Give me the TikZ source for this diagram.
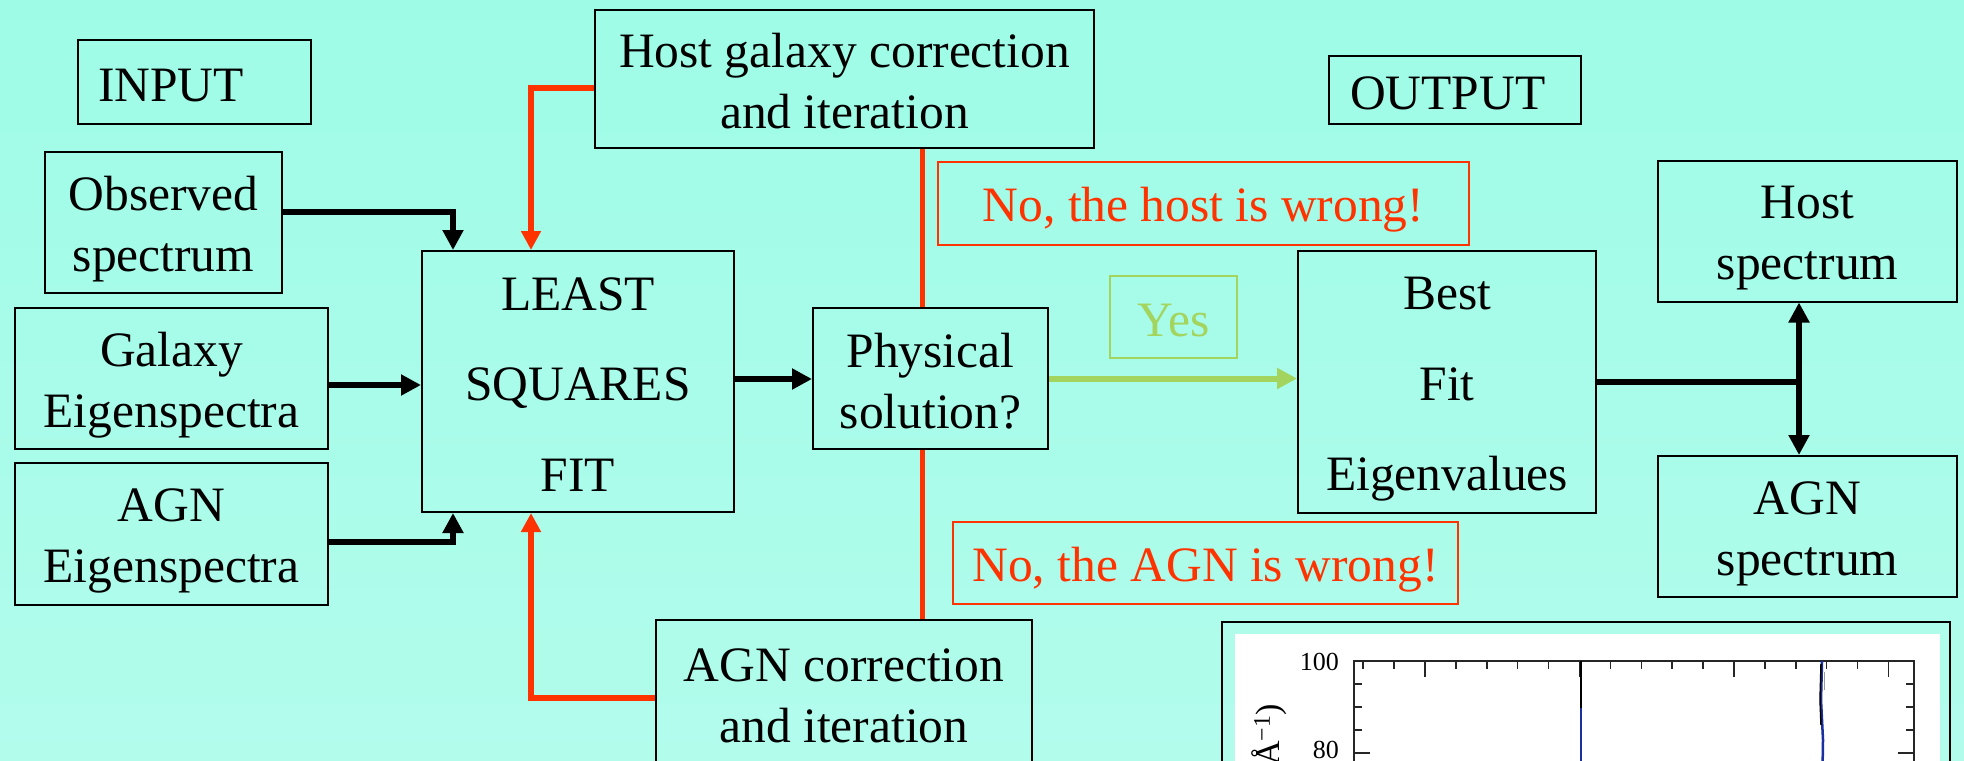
\documentclass[tikz,border=0pt]{standalone}
\usepackage{fontspec}
\setmainfont{Liberation Serif}
\usetikzlibrary{arrows.meta}
\definecolor{bgtop}{HTML}{9EFCE6}
\definecolor{bgbot}{HTML}{B2FCEC}
\definecolor{myred}{HTML}{FF3300}
\definecolor{mygreen}{HTML}{A3D45E}
\definecolor{plotblue}{HTML}{1A2FA0}
\newcommand\bigtxt{\fontsize{49.5}{61}\selectfont}
\newcommand\widetxt{\fontsize{49.5}{90.5}\selectfont}
\newcommand\plottxt{\fontsize{26}{28}\selectfont}
\newcommand\labtxt{\fontsize{34}{36}\selectfont}
\newcommand\lstrut{\rule[-0.17em]{0pt}{1.12em}}
\begin{document}
\begin{tikzpicture}[x=1pt,y=-1pt,
  box/.style={draw=black, line width=2pt, inner sep=0pt, align=center, font=\bigtxt, text=black},
  redbox/.style={box, draw=myred, text=myred},
  greenbox/.style={box, draw=mygreen, text=mygreen},
  conn/.style={draw=black, line width=6pt, -{Triangle[length=20pt,width=20pt]}},
  redconn/.style={draw=myred, line width=5.5pt, -{Triangle[length=19pt,width=19pt]}},
  greenconn/.style={draw=mygreen, line width=6pt, -{Triangle[length=20pt,width=20pt]}},
  redline/.style={draw=myred, line width=5pt},
  tick/.style={draw=black!85, line width=1.5pt}
]
\useasboundingbox (0,0) rectangle (1964,760);
\clip (0,0) rectangle (1964,760);
\shade[top color=bgtop, bottom color=bgbot] (0,0) rectangle (1964,760);

% input side
\node[box, minimum width=233pt, minimum height=84pt, text width=193pt, align=left] (input) at (194.5,82) {\lstrut INPUT};
\node[box, minimum width=237pt, minimum height=141pt] (obs) at (163.5,222.5) {\lstrut Observed\\spectrum\lstrut};
\node[box, minimum width=313pt, minimum height=141pt] (gal) at (171.5,378.5) {\lstrut Galaxy\\Eigenspectra\lstrut};
\node[box, minimum width=313pt, minimum height=142pt] (agnin) at (171.5,534) {\lstrut AGN\\Eigenspectra\lstrut};

% centre
\node[box, font=\widetxt, minimum width=312pt, minimum height=261pt] (lsq) at (578,381.5) {\lstrut LEAST\\SQUARES\\FIT\lstrut};
\node[box, minimum width=499pt, minimum height=138pt] (hostcorr) at (844.5,79) {\lstrut Host galaxy correction\\and iteration\lstrut};
\node[box, minimum width=376pt, minimum height=146pt] (agncorr) at (844,693) {\lstrut AGN correction\\and iteration\lstrut};
\node[box, minimum width=235pt, minimum height=141pt] (phys) at (930.5,378.5) {\lstrut Physical\\solution?\lstrut};
\node[redbox, minimum width=531pt, minimum height=83pt] (hostwrong) at (1203.5,203.5) {\lstrut No, the host is wrong!};
\node[redbox, minimum width=505pt, minimum height=82pt] (agnwrong) at (1205.5,563) {\lstrut No, the AGN is wrong!};
\node[greenbox, minimum width=127pt, minimum height=82pt] (yes) at (1173.5,317) {\lstrut Yes};

% output side
\node[box, minimum width=252pt, minimum height=68pt, text width=210pt, align=left] (output) at (1455,90) {\lstrut OUTPUT};
\node[box, font=\widetxt, minimum width=298pt, minimum height=262pt] (best) at (1447,382) {\lstrut Best\\Fit\\Eigenvalues\lstrut};
\node[box, minimum width=299pt, minimum height=141pt] (hostout) at (1807.5,231) {\lstrut Host\\spectrum\lstrut};
\node[box, minimum width=299pt, minimum height=141pt] (agnout) at (1807.5,526.5) {\lstrut AGN\\spectrum\lstrut};

% connectors
\draw[conn] ([yshift=10.5pt]obs.east) -| ([xshift=-125pt]lsq.north);
\draw[conn] ([yshift=-6.5pt]gal.east) -- ([yshift=-6.5pt]gal.east -| lsq.west);
\draw[conn] ([yshift=-8pt]agnin.east) -| ([xshift=-125pt]lsq.south);
\draw[redconn] ([yshift=-9pt]hostcorr.west) -| ([xshift=-47pt]lsq.north);
\draw[redconn] ([yshift=-5pt]agncorr.west) -| ([xshift=-47pt]lsq.south);
\draw[conn] ([yshift=2.5pt]lsq.east) -- ([yshift=2.5pt]lsq.east -| phys.west);
\draw[greenconn] (phys.east) -- (phys.east -| best.west);
\coordinate (v) at ([xshift=-8.5pt]phys.north);
\draw[redline] (v) -- (v |- hostcorr.south);
\coordinate (w) at ([xshift=-8.5pt]phys.south);
\draw[redline] (w) -- (w |- agncorr.north);
\coordinate (j) at (1799,380);
\draw[line width=6pt] (best.east) -- (best.east -| j);
\draw[line width=6pt, {Triangle[length=20pt,width=20pt]}-{Triangle[length=20pt,width=20pt]}] (j |- hostout.south) -- (j |- agnout.north);

% spectrum plot (partly visible)
\draw[black, line width=2.5pt] (1222,622) rectangle (1950,800);
\fill[white] (1235,634) rectangle (1940,800);
\draw[tick] (1354,800) -- (1354,661) -- (1914,661) -- (1914,800);
\foreach \i in {0,...,17} {
  \pgfmathsetmacro\tx{1363.2+\i*30.9}
  \pgfmathtruncatemacro\m{mod(\i,5)}
  \ifnum\m=2
    \draw[tick] (\tx,661) -- (\tx,677);
  \else
    \draw[tick] (\tx,661) -- (\tx,669);
  \fi
}
\foreach \ty in {684,707,730} {
  \draw[tick] (1354,\ty) -- (1362,\ty);
  \draw[tick] (1914,\ty) -- (1906,\ty);
}
\draw[tick] (1354,753) -- (1370,753);
\draw[tick] (1914,753) -- (1898,753);
\node[font=\plottxt, anchor=east, inner sep=0pt] (l100) at (1339,662) {100};
\node[font=\plottxt, anchor=east, inner sep=0pt] (l80) at (1339,750) {80};
\node[font=\labtxt, rotate=90, anchor=base east, inner sep=0pt] (ylab) at (1279,704) {Å\textsuperscript{−1})};
\draw[black, line width=2pt] (1581,661) -- (1581,708);
\draw[plotblue, line width=2pt] (1581,708) -- (1581,800);
\draw[plotblue, line width=2.5pt] (1822,661) -- (1821,700) -- (1823,740) -- (1822,800);
\draw[black, line width=1.5pt] (1821,664) -- (1820,700) -- (1821,725);
\draw[black!40, line width=1pt] (1824,672) -- (1824,690);
\end{tikzpicture}
\end{document}
